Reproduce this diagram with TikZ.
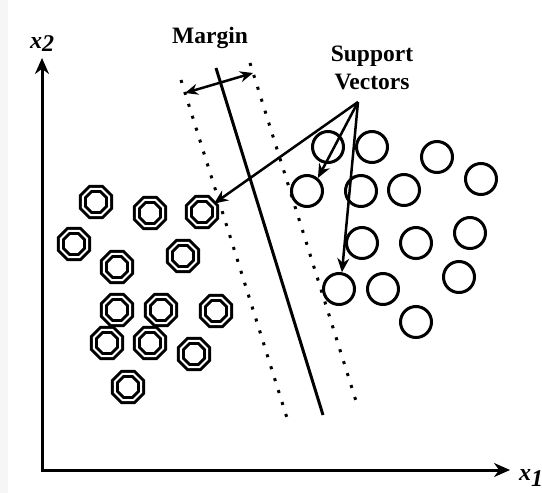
\documentclass[tikz,border=0pt]{standalone}
\usepackage{fontspec}
\setmainfont{Liberation Serif}
\usetikzlibrary{arrows.meta,shapes.geometric}
\begin{document}
\begin{tikzpicture}[x=1pt,y=-1pt,
  axis/.style={line width=3pt,{Stealth[length=16pt,width=14pt]}-{Stealth[length=16pt,width=14pt]}},
  lbl/.style={font=\fontsize{23.5}{28}\selectfont\bfseries, inner sep=0pt},
  axlbl/.style={font=\fontsize{24}{28}\selectfont\bfseries\itshape, inner sep=0pt},
  octo/.style={regular polygon, regular polygon sides=8, minimum size=28.2pt, inner sep=0pt,
    draw=black, line width=3pt, double=white, double distance=2pt},
  circ/.style={circle, draw=black, line width=3pt, minimum size=31pt, inner sep=0pt},
  hyper/.style={line width=3pt},
  dotline/.style={line width=3pt, dash pattern=on 3pt off 9.5pt},
  svarrow/.style={line width=2.5pt, -{Stealth[length=14pt,width=12pt]}},
  margarrow/.style={line width=2.5pt, {Stealth[length=13pt,width=11pt]}-{Stealth[length=13pt,width=11pt]}}
]
\useasboundingbox (0,0) rectangle (542,493);
\fill[gray!7] (0,0) rectangle (8,493);

% axes
\coordinate (ytop) at (42,58);
\coordinate (orig) at (42,470);
\coordinate (xend) at (510,470);
\draw[axis] (ytop) -- (orig) -- (xend);
\node[axlbl, anchor=base west] (x2) at (30,48) {x\raisebox{-3pt}{2}};
\node[axlbl, anchor=base west] (x1) at (519,480) {x\raisebox{-6pt}{1}};

% hyperplane and margins
\coordinate (Ha) at (216,68);  \coordinate (Hb) at (323,415);
\coordinate (La) at (181,80);  \coordinate (Lb) at (287,418);
\coordinate (Ra) at (250,63);  \coordinate (Rb) at (356,401);
\draw[hyper] (Ha) -- (Hb);
\draw[dotline] (La) -- (Lb);
\draw[dotline] (Ra) -- (Rb);

% class A: double octagons
\foreach \n/\x/\y in {1/96/202, 2/150/213, 3/202/212, 4/74/244, 5/117/267, 6/183/256,
  7/117/310, 8/161/310, 9/216/311, 10/107/343, 11/150/343, 12/194/354, 13/128/387}
  \node[octo] (o\n) at (\x,\y) {};

% class B: circles
\foreach \n/\x/\y in {1/328/147, 2/372/147, 3/437/157, 4/481/179, 5/307/191, 6/361/191,
  7/404/190, 8/362/243, 9/416/243, 10/470/233, 11/339/289, 12/383/289, 13/459/277, 14/416/322}
  \node[circ] (c\n) at (\x,\y) {};

% labels
\node[lbl, anchor=base] (margin) at (210,43) {Margin};
\node[lbl, align=center, anchor=center] (svlbl) at (372,68) {Support\\Vectors};

% margin arrow
\coordinate (m1) at (185,93);
\coordinate (m2) at (253,73);
\draw[margarrow] (m1) -- (m2);

% support vector arrows
\coordinate (sv) at (358,102);
\draw[svarrow] (sv) -- (o3);
\draw[svarrow] (sv) -- (c5.50);
\draw[svarrow] (sv) -- (c11.80);
\end{tikzpicture}
\end{document}
